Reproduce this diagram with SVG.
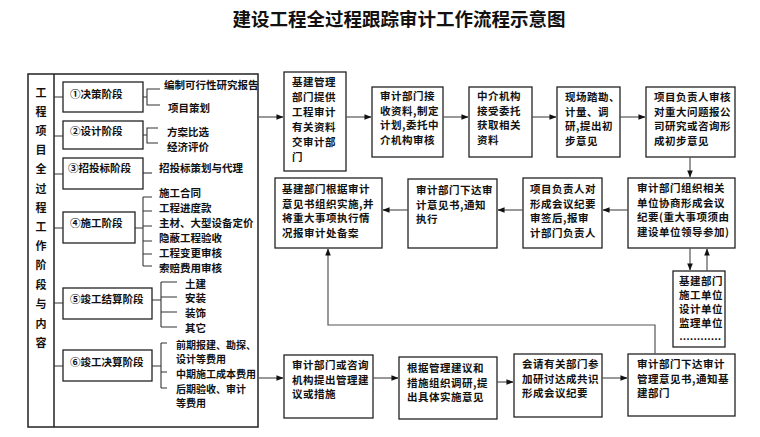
<svg xmlns="http://www.w3.org/2000/svg" width="760" height="437" viewBox="0 0 760 437">
<style>
text{font-family:"Noto Sans CJK SC","Liberation Sans",sans-serif;font-weight:bold;fill:#111}
.t{font-size:10.5px;letter-spacing:0.5px}
.s{font-size:10.5px}
.s2{font-size:10px}
.v{font-size:11px;text-anchor:middle}
.title{font-size:18.5px;text-anchor:middle}
.dots{font-family:"Liberation Sans",sans-serif;font-size:11px;letter-spacing:-0.5px}
.b{fill:#fff;stroke:#222;stroke-width:1.3}
.l{fill:none;stroke:#333;stroke-width:1.1}
.a{fill:none;stroke:#555;stroke-width:1.2;marker-end:url(#ah)}
</style>
<defs>
<marker id="ah" viewBox="0 0 8 8" refX="7.5" refY="4" markerWidth="7" markerHeight="7" markerUnits="userSpaceOnUse" orient="auto">
<path d="M0,0.8 L8,4 L0,7.2 z" fill="#111"/>
</marker>
</defs>
<rect width="760" height="437" fill="#fff"/>
<text class="title" x="399" y="26">建设工程全过程跟踪审计工作流程示意图</text>

<g id="panel">
<rect x="28" y="74" width="230" height="353" fill="none" stroke="#222" stroke-width="1.5"/>
<line x1="54" y1="74" x2="54" y2="427" stroke="#222" stroke-width="1.5"/>
<g>
<text class="v" x="41" y="97">工</text><text class="v" x="41" y="116">程</text><text class="v" x="41" y="135">项</text><text class="v" x="41" y="154">目</text><text class="v" x="41" y="173">全</text><text class="v" x="41" y="193">过</text><text class="v" x="41" y="212">程</text><text class="v" x="41" y="231">工</text><text class="v" x="41" y="250">作</text><text class="v" x="41" y="269">阶</text><text class="v" x="41" y="289">段</text><text class="v" x="41" y="308">与</text><text class="v" x="41" y="328">内</text><text class="v" x="41" y="347">容</text>
</g>
</g>

<g id="stage1">
<rect class="b" x="63" y="82" width="80" height="30"/>
<text class="s" x="70" y="98">①决策阶段</text>
<text class="s" x="164" y="89">编制可行性研究报告</text>
<text class="s" x="168" y="112">项目策划</text>
</g>
<g id="stage2">
<rect class="b" x="63" y="121" width="80" height="28"/>
<text class="s" x="70" y="135">②设计阶段</text>
<text class="s" x="167" y="136">方案比选</text>
<text class="s" x="167" y="151">经济评价</text>
</g>
<g id="stage3">
<rect class="b" x="63" y="158" width="80" height="31"/>
<text class="s" x="68" y="172">③招投标阶段</text>
<text class="s" x="159" y="172">招投标策划与代理</text>
</g>
<g id="stage4">
<rect class="b" x="63" y="212" width="72" height="31"/>
<text class="s" x="70" y="227">④施工阶段</text>
<text class="s" x="159" y="197">施工合同</text>
<text class="s" x="159" y="212">工程进度款</text>
<text class="s" x="159" y="227">主材、大型设备定价</text>
<text class="s" x="159" y="242">隐蔽工程验收</text>
<text class="s" x="159" y="257">工程变更审核</text>
<text class="s" x="159" y="272">索赔费用审核</text>
</g>
<g id="stage5">
<rect class="b" x="63" y="288" width="89" height="31"/>
<text class="s" x="70" y="303">⑤竣工结算阶段</text>
<text class="s" x="185" y="288">土建</text>
<text class="s" x="185" y="302">安装</text>
<text class="s" x="185" y="317">装饰</text>
<text class="s" x="185" y="332">其它</text>
</g>
<g id="stage6">
<rect class="b" x="63" y="350" width="89" height="31"/>
<text class="s" x="70" y="366">⑥竣工决算阶段</text>
<text class="s2" x="176" y="349">前期报建、勘探、</text>
<text class="s2" x="176" y="363">设计等费用</text>
<text class="s2" x="176" y="378">中期施工成本费用</text>
<text class="s2" x="176" y="393">后期验收、审计</text>
<text class="s2" x="176" y="407">等费用</text>
</g>

<g id="nA"><rect class="b" x="284" y="72" width="62" height="99"/>
<text class="t" x="292" y="86" letter-spacing="2">基建管理</text>
<text class="t" x="292" y="101" letter-spacing="2">部门提供</text>
<text class="t" x="292" y="116" letter-spacing="2">工程审计</text>
<text class="t" x="292" y="131" letter-spacing="2">有关资料</text>
<text class="t" x="292" y="146" letter-spacing="2">交审计部</text>
<text class="t" x="292" y="161" letter-spacing="2">门</text></g>
<g id="nB"><rect class="b" x="372" y="87" width="71" height="70"/>
<text class="t" x="380" y="100">审计部门接</text>
<text class="t" x="380" y="114.5">收资料,制定</text>
<text class="t" x="380" y="129">计划,委托中</text>
<text class="t" x="380" y="143.5">介机构审核</text></g>
<g id="nC"><rect class="b" x="469" y="87" width="63" height="70"/>
<text class="t" x="477" y="100" letter-spacing="2">中介机构</text>
<text class="t" x="477" y="114.5" letter-spacing="2">接受委托</text>
<text class="t" x="477" y="129" letter-spacing="2">获取相关</text>
<text class="t" x="477" y="143.5">资料</text></g>
<g id="nD"><rect class="b" x="557" y="87" width="63" height="70"/>
<text class="t" x="565" y="101">现场踏勘、</text>
<text class="t" x="565" y="115.5">计量、调</text>
<text class="t" x="565" y="130">研,提出初</text>
<text class="t" x="565" y="144.5">步意见</text></g>
<g id="nE"><rect class="b" x="646" y="87" width="89" height="70"/>
<text class="t" x="654" y="101">项目负责人审核</text>
<text class="t" x="654" y="115.5">对重大问题报公</text>
<text class="t" x="654" y="130">司研究或咨询形</text>
<text class="t" x="654" y="144.5">成初步意见</text></g>

<g id="nF"><rect class="b" x="628" y="178" width="107" height="70"/>
<text class="t" x="637" y="192">审计部门组织相关</text>
<text class="t" x="637" y="206.5">单位协商形成会议</text>
<text class="t" x="637" y="221">纪要(重大事项须由</text>
<text class="t" x="637" y="235.5">建设单位领导参加)</text></g>
<g id="nG"><rect class="b" x="523" y="178" width="79" height="70"/>
<text class="t" x="530" y="193">项目负责人对</text>
<text class="t" x="530" y="207.5">形成会议纪要</text>
<text class="t" x="530" y="222">审签后,报审</text>
<text class="t" x="530" y="236.5">计部门负责人</text></g>
<g id="nH"><rect class="b" x="408" y="179" width="89" height="69"/>
<text class="t" x="416" y="194">审计部门下达审</text>
<text class="t" x="416" y="208.5">计意见书,通知</text>
<text class="t" x="416" y="223">执行</text></g>
<g id="nI"><rect class="b" x="275" y="178" width="107" height="70"/>
<text class="t" x="282" y="193">基建部门根据审计</text>
<text class="t" x="282" y="207.5">意见书组织实施,并</text>
<text class="t" x="282" y="222">将重大事项执行情</text>
<text class="t" x="282" y="236.5">况报审计处备案</text></g>

<g id="nL"><rect class="b" x="673" y="271" width="52" height="76"/>
<text class="t" x="679" y="285">基建部门</text>
<text class="t" x="679" y="299">施工单位</text>
<text class="t" x="679" y="313">设计单位</text>
<text class="t" x="679" y="327">监理单位</text>
<text class="dots" x="679" y="340">…………</text></g>

<g id="nM"><rect class="b" x="284" y="355" width="89" height="63"/>
<text class="t" x="292" y="369">审计部门或咨询</text>
<text class="t" x="292" y="383.5">机构提出管理建</text>
<text class="t" x="292" y="398">议或措施</text></g>
<g id="nN"><rect class="b" x="399" y="357" width="98" height="62"/>
<text class="t" x="407" y="372">根据管理建议和</text>
<text class="t" x="407" y="386.5">措施组织调研,提</text>
<text class="t" x="407" y="401">出具体实施意见</text></g>
<g id="nO"><rect class="b" x="514" y="354" width="88" height="63"/>
<text class="t" x="522" y="368">会请有关部门参</text>
<text class="t" x="522" y="382.5">加研讨达成共识</text>
<text class="t" x="522" y="397">形成会议纪要</text></g>
<g id="nK"><rect class="b" x="628" y="354" width="107" height="62"/>
<text class="t" x="637" y="368">审计部门下达审计</text>
<text class="t" x="637" y="382.5">管理意见书,通知基</text>
<text class="t" x="637" y="397">建部门</text></g>

<g id="connectors">
<path class="l" d="M54,97 H63 M54,136 H63 M54,174 H63 M54,228 H63 M54,303 H63 M54,366 H63"/>
<path class="l" d="M143,97 H147 M160,89 H147 V105 H160"/>
<path class="l" d="M143,135 H147 M158,128 H147 V143 H158"/>
<path class="l" d="M143,173 H152"/>
<path class="l" d="M135,228 H143 M143,197 V266 M143,197 H152 M143,211 H152 M143,226 H152 M143,241 H152 M143,254 H152 M143,266 H152"/>
<path class="l" d="M152,300 H161 M161,282 V327 M161,282 H177 M161,297 H177 M161,312 H177 M161,327 H177"/>
<path class="l" d="M152,366 H161 M161,343 V388 M161,343 H167 M161,372 H167 M161,388 H167"/>
<path class="a" d="M258,117 H283"/>
<path class="a" d="M346,117 H371"/>
<path class="a" d="M443,117 H468"/>
<path class="a" d="M532,117 H556"/>
<path class="a" d="M620,117 H645"/>
<path class="a" d="M690,157 V177"/>
<path class="a" d="M628,210 H603"/>
<path class="a" d="M523,210 H498"/>
<path class="a" d="M408,210 H383"/>
<path class="a" d="M690,248 V270"/>
<path class="a" d="M707,271 V249"/>
<path class="a" d="M655,354 V325 H328 V249"/>
<path class="a" d="M258,378 H283"/>
<path class="a" d="M373,378 H398"/>
<path class="a" d="M497,382 H513"/>
<path class="a" d="M602,378 H627"/>
</g>
</svg>
